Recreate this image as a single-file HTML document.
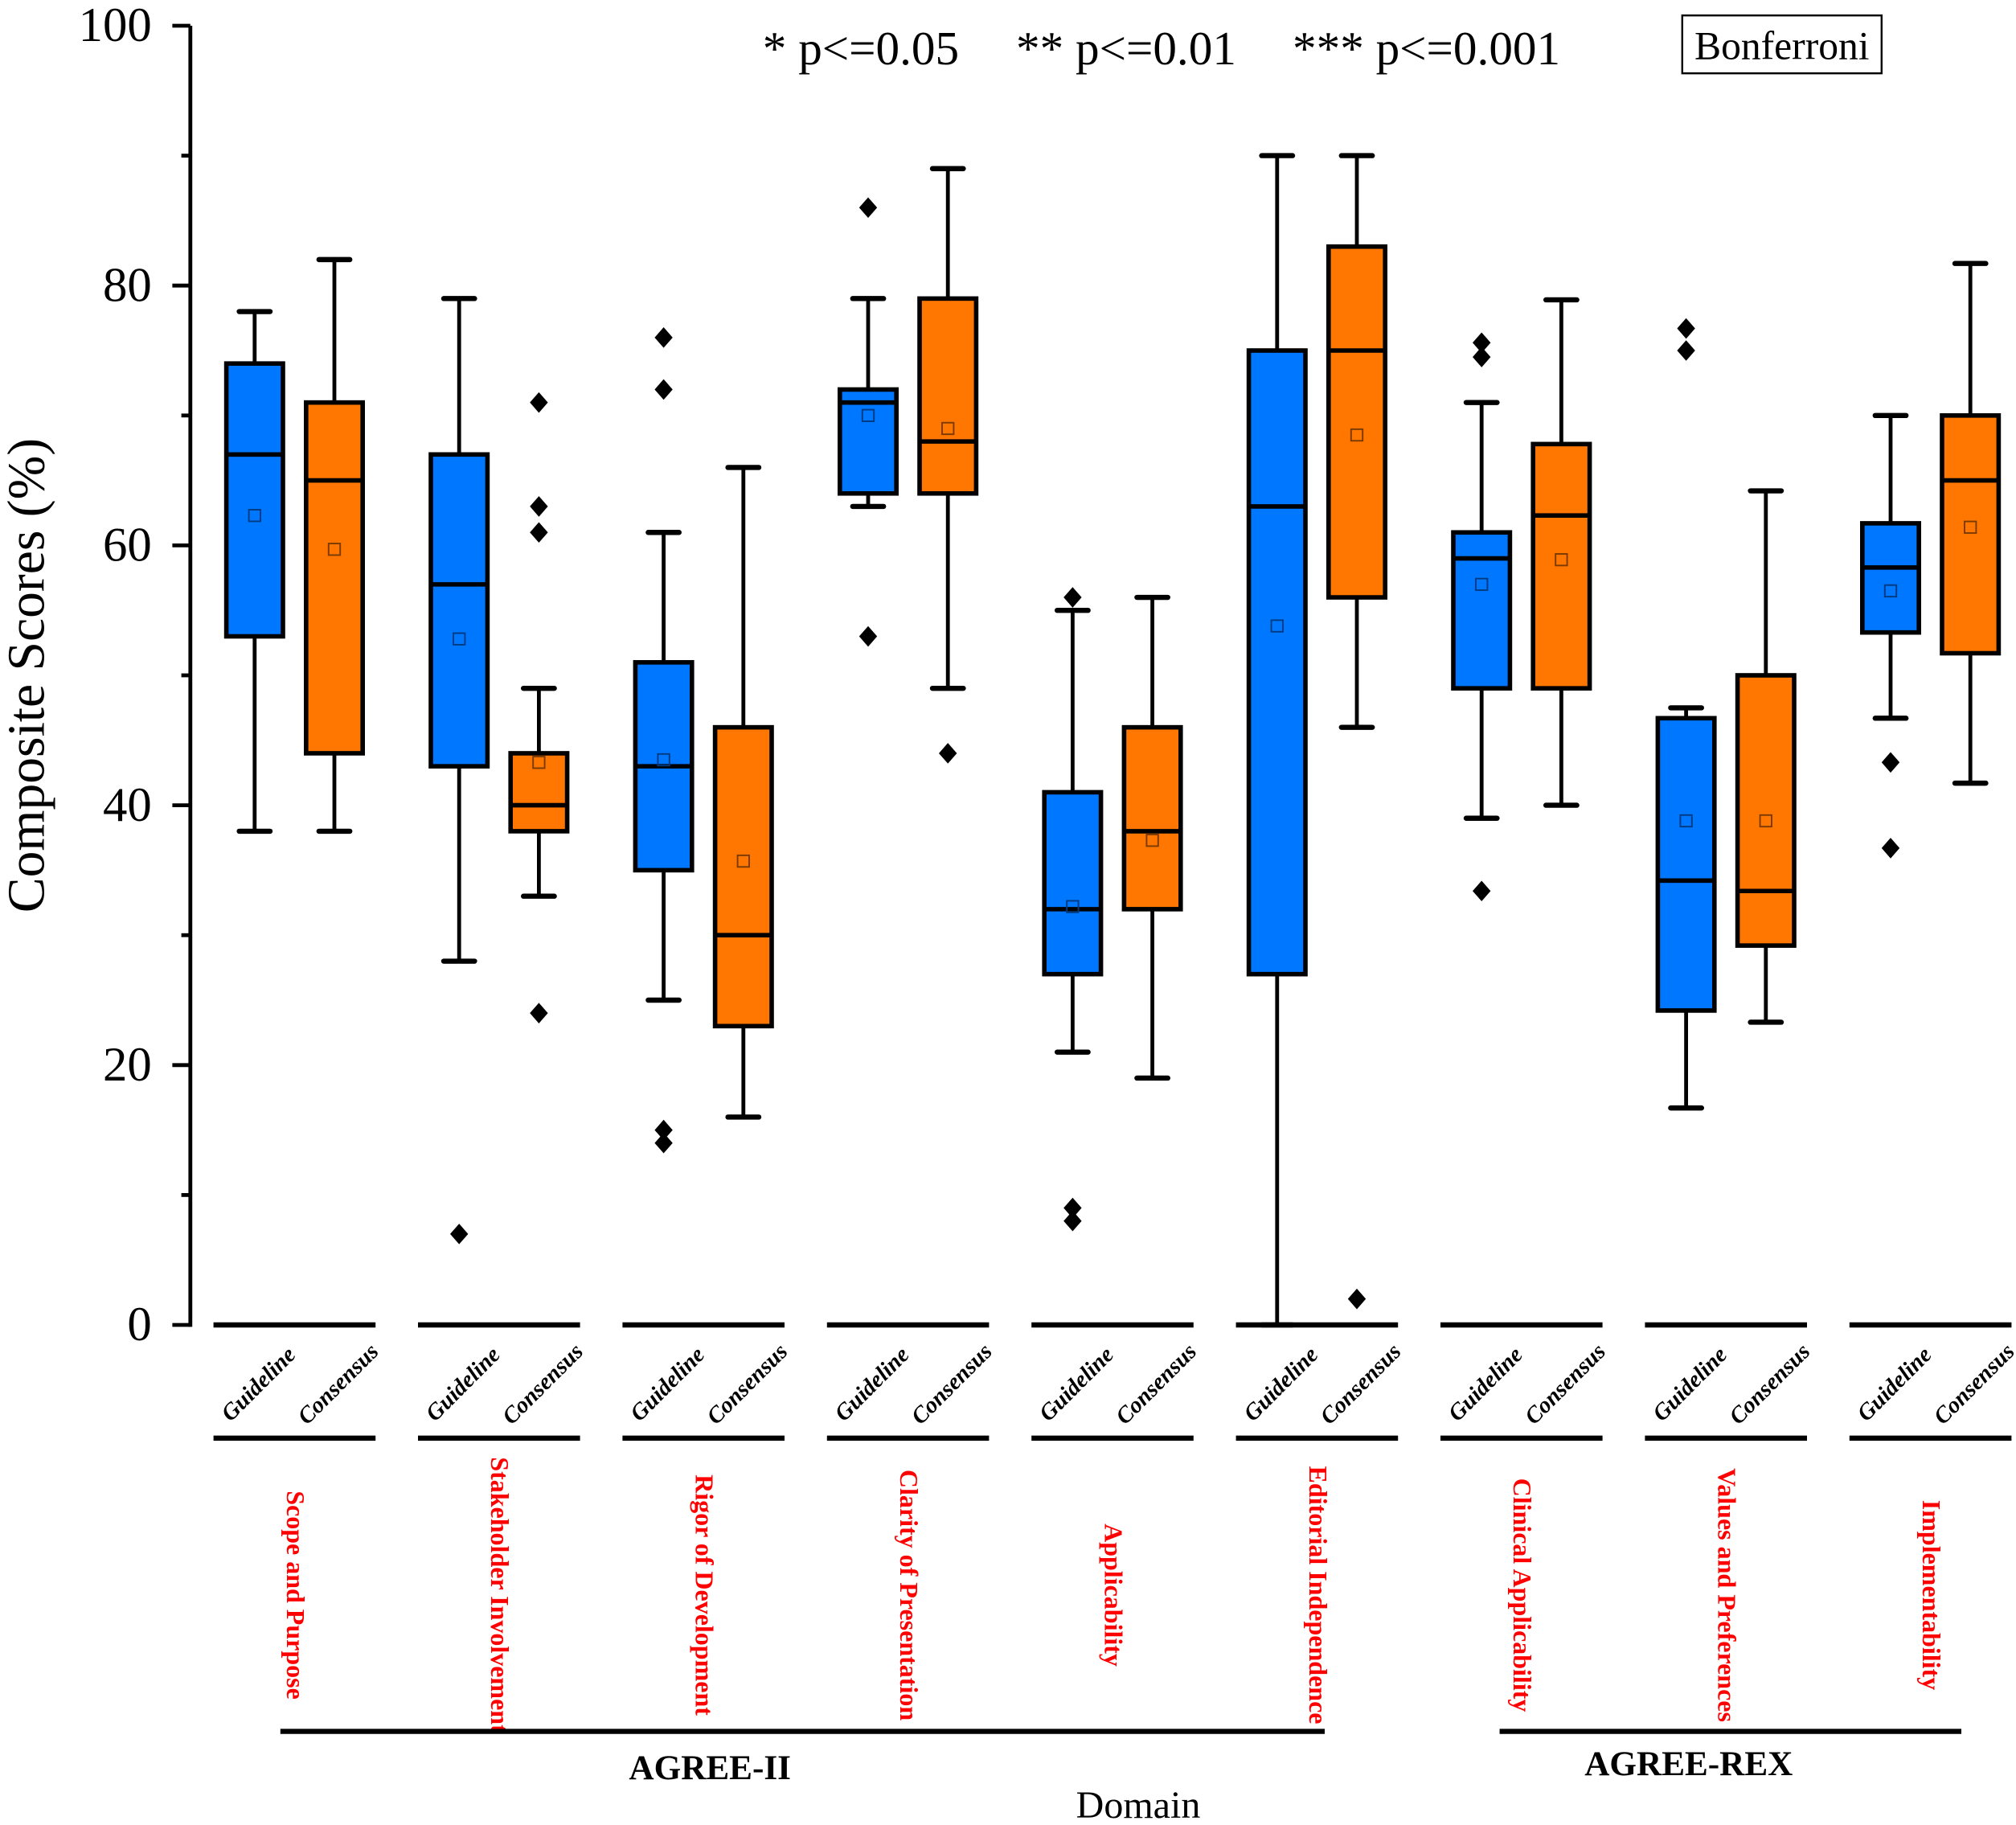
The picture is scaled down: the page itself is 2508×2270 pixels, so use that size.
<!DOCTYPE html>
<html><head><meta charset="utf-8"><style>
html,body{margin:0;padding:0;background:#fff}
svg{display:block}
svg text{font-family:"Liberation Serif","Times New Roman",serif}
</style></head><body>
<svg id="chart" width="2508" height="2270" viewBox="0 0 1567.5 1418.75" xmlns="http://www.w3.org/2000/svg" font-family="Liberation Serif, Times New Roman, serif">
<g id="axes"></g>
<g id="plot"></g>
<g id="labels"></g>
<text x="0" y="0" transform="translate(34,525) rotate(-90)" text-anchor="middle" font-size="41">Composite Scores (%)</text>
<text x="593" y="50" font-size="37">* p&lt;=0.05</text>
<text x="790" y="50" font-size="37">** p&lt;=0.01</text>
<text x="1005" y="50" font-size="37">*** p&lt;=0.001</text>
<rect x="1308" y="12" width="155" height="45" fill="none" stroke="#000" stroke-width="1.5"/>
<text x="1385.5" y="46" text-anchor="middle" font-size="31">Bonferroni</text>
<line x1="218" y1="1346" x2="1030" y2="1346" stroke="#000" stroke-width="4"/>
<line x1="1166" y1="1346" x2="1525" y2="1346" stroke="#000" stroke-width="4"/>
<text x="552" y="1383" text-anchor="middle" font-size="27" font-weight="bold">AGREE-II</text>
<text x="1313" y="1380" text-anchor="middle" font-size="27" font-weight="bold">AGREE-REX</text>
<text x="885" y="1413" text-anchor="middle" font-size="30">Domain</text>
</svg>
<script>
const domains = ["Scope and Purpose","Stakeholder Involvement","Rigor of Development","Clarity of Presentation","Applicability","Editorial Independence","Clinical Applicability","Values and Preferences","Implementability"];
const seriesNames = ["Guideline","Consensus"];
// [whiskerLow, q1, median, q3, whiskerHigh]
const guidelineStats = [[38,53,67,74,78],[28,43,57,67,79],[25,35,43,51,61],[63,64,71,72,79],[21,27,32,41,55],[0,27,63,75,90],[39,49,59,61,71],[16.7,24.2,34.2,46.7,47.5],[46.7,53.3,58.3,61.7,70]];
const consensusStats = [[38,44,65,71,82],[33,38,40,44,49],[16,23,30,46,66],[49,64,68,79,89],[19,32,38,46,56],[46,56,75,83,90],[40,49,62.3,67.8,78.9],[23.3,29.2,33.4,50,64.2],[41.7,51.7,65,70,81.7]];
const guidelineMeans = [62.3,52.8,43.5,70,32.2,53.8,57,38.8,56.5];
const consensusMeans = [59.7,43.3,35.7,69,37.3,68.5,58.9,38.8,61.4];
const guidelineOutliers = [[],[7],[76,72,15,14],[86,53],[56,9,8],[],[75.6,74.5,33.4],[76.7,75],[43.3,36.7]];
const consensusOutliers = [[],[71,63,61,24],[],[44],[],[2],[],[],[]];
const yTicks = [0,20,40,60,80,100];
const yMinor = [10,30,50,70,90];

const NS="http://www.w3.org/2000/svg";
const yScale = v => 1030 - v*10.1;
const groupX = (i,s) => 198 + 159*i + 62*s;
function mk(tag, attrs, parent){const e=document.createElementNS(NS,tag);for(const k in attrs)e.setAttribute(k,attrs[k]);parent.appendChild(e);return e;}
const axes=document.getElementById('axes'), plot=document.getElementById('plot'), labels=document.getElementById('labels');

let ax=mk('line',{x1:148,y1:yScale(100),x2:148,y2:yScale(0)+1.5,stroke:'#000','stroke-width':3},axes);


yTicks.forEach(t=>{
  let l=mk('line',{x1:134,y1:yScale(t),x2:148,y2:yScale(t),stroke:'#000','stroke-width':3},axes);
  
  
  let tx=mk('text',{x:118,y:yScale(t)+12,'text-anchor':'end','font-size':38},axes);
  tx.textContent=t;
  
  
});
yMinor.forEach(t=>{
  let l=mk('line',{x1:141,y1:yScale(t),x2:148,y2:yScale(t),stroke:'#000','stroke-width':3},axes);
  
  
});

const colors=['#0077ff','#ff7700'];
const allStats=[guidelineStats,consensusStats], allMeans=[guidelineMeans,consensusMeans], allOut=[guidelineOutliers,consensusOutliers];
domains.forEach((d,i)=>{
  const gx=198+159*i-32;
  [1030,1118].forEach((yy,k)=>{
    let l=mk('line',{x1:gx,y1:yy,x2:gx+126,y2:yy,stroke:'#000','stroke-width':4},labels);
    
    
  });
  seriesNames.forEach((sn,s)=>{
    const cx=groupX(i,s);
    let t=mk('text',{x:0,y:0,transform:`translate(${cx+7},${1080}) rotate(-45)`,'text-anchor':'middle','font-size':18,'font-weight':'bold','font-style':'italic'},labels);
    t.textContent=sn;
    
    
    const st=allStats[s][i];
    const g=mk('g',{},plot);
    
    
    const hw=22, cw=12;
    mk('line',{x1:cx,y1:yScale(st[0]),x2:cx,y2:yScale(st[1]),stroke:'#000','stroke-width':3},g);
    mk('line',{x1:cx,y1:yScale(st[3]),x2:cx,y2:yScale(st[4]),stroke:'#000','stroke-width':3},g);
    mk('line',{x1:cx-cw,y1:yScale(st[0]),x2:cx+cw,y2:yScale(st[0]),stroke:'#000','stroke-width':4,'stroke-linecap':'round'},g);
    mk('line',{x1:cx-cw,y1:yScale(st[4]),x2:cx+cw,y2:yScale(st[4]),stroke:'#000','stroke-width':4,'stroke-linecap':'round'},g);
    mk('rect',{x:cx-hw,y:yScale(st[3]),width:hw*2,height:yScale(st[1])-yScale(st[3]),fill:colors[s],stroke:'#000','stroke-width':3.5},g);
    mk('line',{x1:cx-hw,y1:yScale(st[2]),x2:cx+hw,y2:yScale(st[2]),stroke:'#000','stroke-width':3.5},g);
    const m=yScale(allMeans[s][i]);
    mk('rect',{x:cx-4.5,y:m-4.5,width:9,height:9,fill:'none',stroke:s?'#7a3a00':'#003a80','stroke-width':1.2},g);
    allOut[s][i].forEach(o=>{
      const oy=yScale(o);
      let p=mk('polygon',{points:`${cx},${oy-8} ${cx+7},${oy} ${cx},${oy+8} ${cx-7},${oy}`,fill:'#000'},g);
      
      
    });
  });
  let dl=mk('text',{x:0,y:0,transform:`translate(${229+159*i-6},1240) rotate(90)`,'text-anchor':'middle','font-size':20,'font-weight':'bold',fill:'#ff0000'},labels);
  dl.textContent=d;
  
  
});
</script>
</body></html>
